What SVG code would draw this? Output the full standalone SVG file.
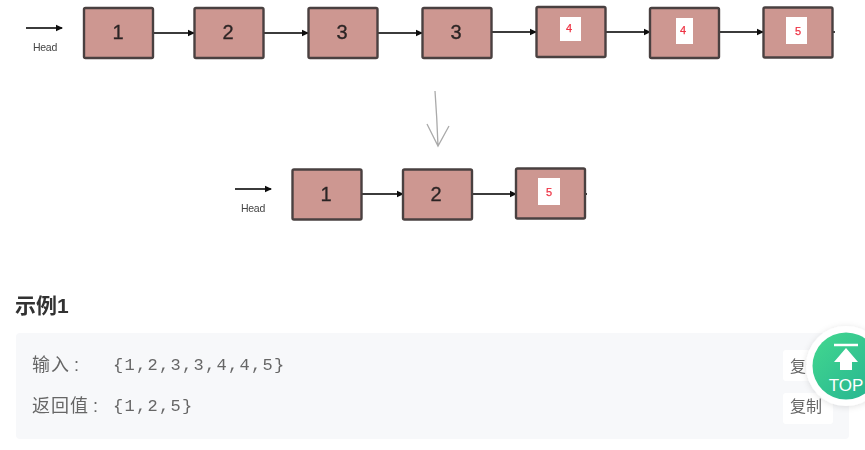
<svg xmlns="http://www.w3.org/2000/svg" width="865" height="450" viewBox="0 0 865 450">
<style>
.box{fill:#cd9791;stroke:#4a4140;stroke-width:2.4}
.num{font:20px "Liberation Sans",sans-serif;fill:#2c2525;text-anchor:middle;stroke:#2c2525;stroke-width:.3}
.red{font:11px "Liberation Sans",sans-serif;fill:#ee3344;text-anchor:middle;stroke:#ee3344;stroke-width:.25}
.hd{font:10.5px "Liberation Sans",sans-serif;fill:#444;text-anchor:middle;letter-spacing:-.3px}
.lnk{stroke:#3a3a3a;stroke-width:1.9;fill:none}
.cjk{font-family:"Liberation Sans","Noto Sans CJK SC",sans-serif}
.lab{font-size:18px;fill:#666;letter-spacing:1px}
.mono{font:17px "Liberation Mono","Noto Sans CJK SC",monospace;fill:#666;letter-spacing:1.300px}
.btn{fill:#fff}
</style>
<defs>
<marker id="a" markerWidth="8" markerHeight="8" refX="6" refY="4" orient="auto" markerUnits="userSpaceOnUse"><path d="M0 0.800L7 4L0 7.200z" fill="#111"/></marker>
<filter id="soft" x="-5%" y="-5%" width="110%" height="110%"><feGaussianBlur stdDeviation=".6"/></filter>
<linearGradient id="g" x1="0" y1="0" x2="1" y2="1"><stop offset="0" stop-color="#43d88f"/><stop offset="1" stop-color="#25b391"/></linearGradient>
<filter id="sh" x="-30%" y="-30%" width="160%" height="160%"><feDropShadow dx="0" dy="1" stdDeviation="3" flood-color="#000" flood-opacity=".12"/></filter>
</defs>
<rect width="865" height="450" fill="#fff"/>
<g filter="url(#soft)">
<g id="connectors">
<path class="lnk" marker-end="url(#a)" d="M26 28H62"/>
<path class="lnk" marker-end="url(#a)" d="M153 33H194"/>
<path class="lnk" marker-end="url(#a)" d="M263 33H308"/>
<path class="lnk" marker-end="url(#a)" d="M378 33H422"/>
<path class="lnk" marker-end="url(#a)" d="M492 32H536"/>
<path class="lnk" marker-end="url(#a)" d="M605 32H650"/>
<path class="lnk" marker-end="url(#a)" d="M719 32H763"/>
<path class="lnk" d="M832 32H835"/>
<path class="lnk" marker-end="url(#a)" d="M235 189H271"/>
<path class="lnk" marker-end="url(#a)" d="M361 194H403"/>
<path class="lnk" marker-end="url(#a)" d="M472 194H516"/>
<path class="lnk" d="M585 194H587"/>
<path d="M435 91Q437 118 438 146M427 124L438 146L449 126" fill="none" stroke="#aaa" stroke-width="1.300"/>
</g>
<g id="head1"><text class="hd" x="45" y="51">Head</text></g>
<g id="n1"><rect class="box" x="84" y="8" width="69" height="50" rx="1.500"/><text class="num" x="118" y="39">1</text></g>
<g id="n2"><rect class="box" x="194.500" y="8" width="69" height="50" rx="1.500"/><text class="num" x="228" y="39">2</text></g>
<g id="n3"><rect class="box" x="308.500" y="8" width="69" height="50" rx="1.500"/><text class="num" x="342" y="39">3</text></g>
<g id="n4"><rect class="box" x="422.500" y="8" width="69" height="50" rx="1.500"/><text class="num" x="456" y="39">3</text></g>
<g id="n5"><rect class="box" x="536.500" y="7" width="69" height="50" rx="1.500"/><rect x="560" y="17" width="21" height="24" fill="#fff"/><text class="red" x="569" y="32">4</text></g>
<g id="n6"><rect class="box" x="650" y="8" width="69" height="50" rx="1.500"/><rect x="676" y="18" width="17" height="26" fill="#fff"/><text class="red" x="683" y="34">4</text></g>
<g id="n7"><rect class="box" x="763.500" y="7.500" width="69" height="50" rx="1.500"/><rect x="786" y="17" width="21" height="27" fill="#fff"/><text class="red" x="798" y="35">5</text></g>
<g id="head2"><text class="hd" x="253" y="212">Head</text></g>
<g id="m1"><rect class="box" x="292.500" y="169.500" width="69" height="50" rx="1.500"/><text class="num" x="326" y="201">1</text></g>
<g id="m2"><rect class="box" x="403" y="169.500" width="69" height="50" rx="1.500"/><text class="num" x="436" y="201">2</text></g>
<g id="m3"><rect class="box" x="516" y="168.500" width="69" height="50" rx="1.500"/><rect x="538" y="178" width="22" height="27" fill="#fff"/><text class="red" x="549" y="196">5</text></g>
<text class="cjk" x="15" y="313" font-size="21" font-weight="700" fill="#333">示例1</text>
<rect x="16" y="333" width="833" height="106" rx="4" fill="#f7f8fa"/>
<text class="cjk lab" x="32" y="371">输入<tspan dx="4">:</tspan></text>
<text class="mono" x="113" y="370">{1,2,3,3,4,4,5}</text>
<text class="cjk lab" x="32" y="412">返回值<tspan dx="4">:</tspan></text>
<text class="mono" x="113" y="411">{1,2,5}</text>
<rect class="btn" x="783" y="350" width="50" height="31" rx="3"/>
<text class="cjk" x="790" y="372" font-size="16" fill="#666">复制</text>
<rect class="btn" x="783" y="393" width="50" height="31" rx="3"/>
<text class="cjk" x="790" y="412" font-size="16" fill="#666">复制</text>
</g>
<g id="top">
<circle cx="846" cy="366" r="40" fill="#fff" filter="url(#sh)"/>
<circle cx="846" cy="366" r="33.500" fill="url(#g)"/>
<path d="M834 345H858" stroke="#fff" stroke-width="2.500"/>
<path d="M846 348L858 362H852V370H840V362H834z" fill="#fff"/>
<text x="846" y="391" font-family="Liberation Sans,sans-serif" font-size="17" fill="#fff" text-anchor="middle">TOP</text>
</g>
</svg>
